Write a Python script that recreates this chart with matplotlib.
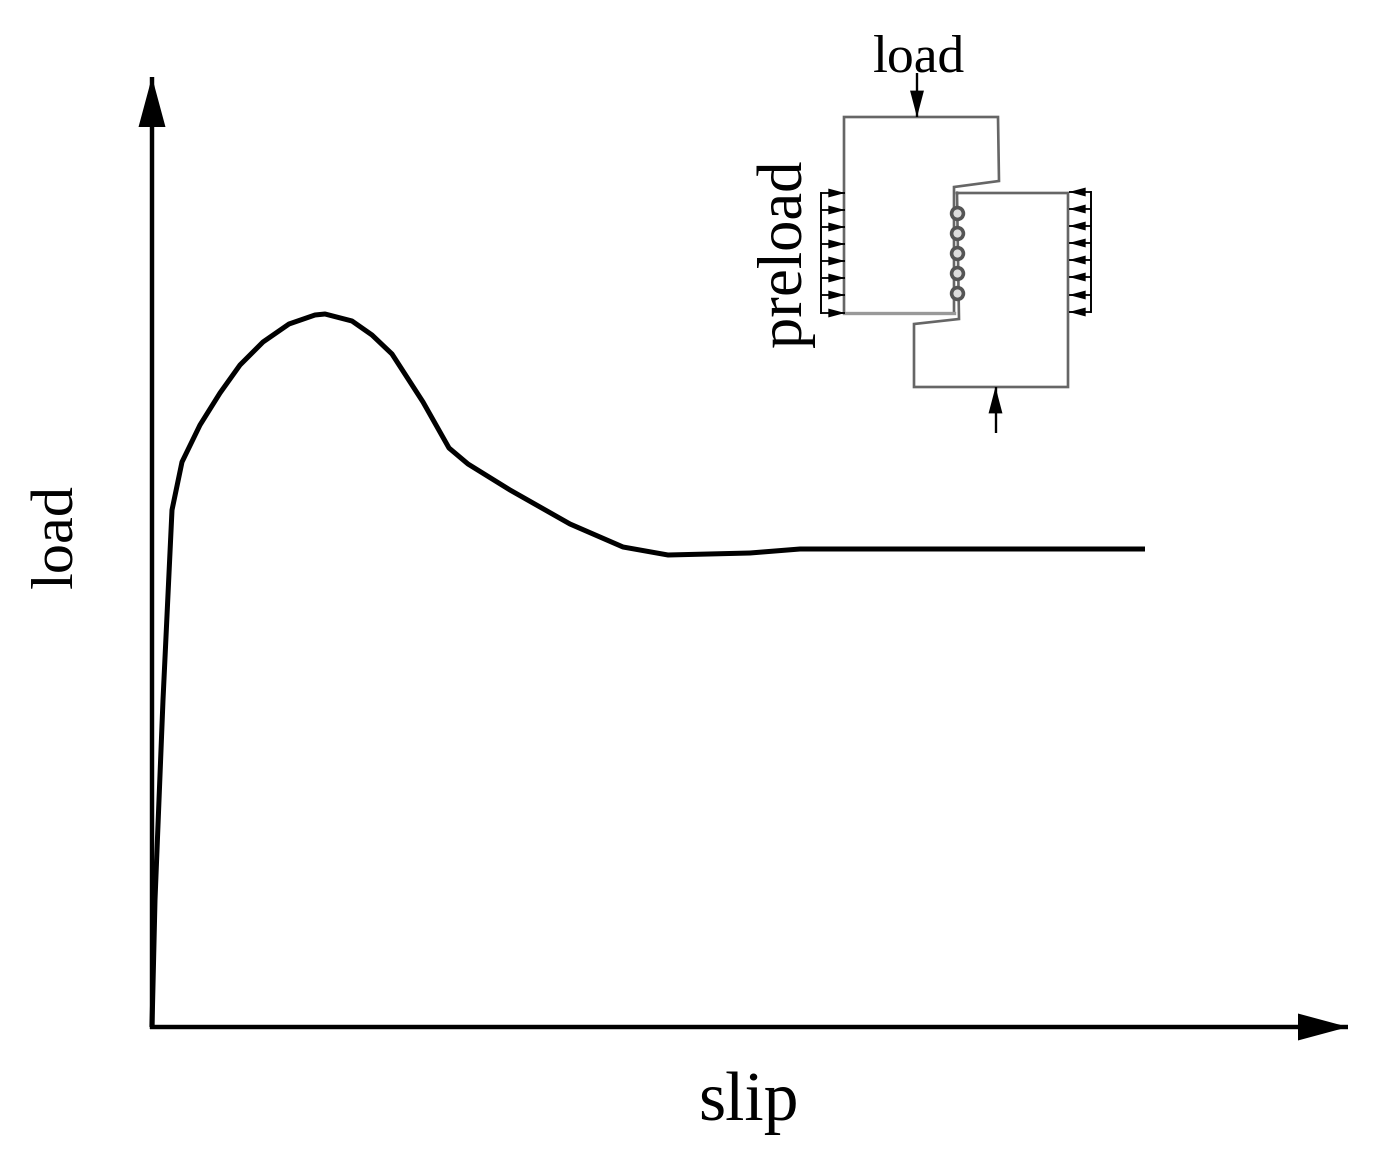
import matplotlib
matplotlib.use('Agg')
import matplotlib.pyplot as plt

W, H = 1381, 1157

plt.rcParams['font.family'] = ['Liberation Serif', 'DejaVu Serif']

# curve (slip, load), same units as the pixels of the main axes
slip = [0, 3, 11, 20, 30, 48, 68, 88, 111, 137, 163, 173, 200, 220, 240, 271, 297,
        316, 358, 418, 471, 516, 598, 648, 993]
load = [0, 127, 327, 517, 565, 602, 634, 662, 685, 703, 712, 713, 706, 692, 673,
        625, 579, 563, 537, 503, 480, 472, 474, 478, 478]

# specimen sketch, inset coordinates
upper_x = [844, 844, 998, 999, 954, 954]
upper_y = [312, 117, 117, 181, 187, 312]
upper_bottom_x = [844, 954]
upper_bottom_y = [313, 313]
lower_x = [957, 1068, 1068, 914, 914, 959, 957]
lower_y = [193, 193, 387, 387, 324, 319, 193]
bolt_y = [213, 233, 253, 273, 293]
bolt_x = [957, 957, 957, 957, 957]
preload_left_y = [193, 210, 227, 244, 261, 278, 295, 313]
preload_right_y = [192, 209, 226, 243, 260, 277, 295, 312]


def add_axes_px(fig, left, top, right, bottom):
    return fig.add_axes([left / W, 1 - bottom / H, (right - left) / W, (bottom - top) / H])


def arrow(ax, start, end, lw, length, half_width):
    # shaft and head apart, a head without edge keeps its tip exactly on end
    ax.plot([start[0], end[0]], [start[1], end[1]], color='black', lw=lw,
            solid_capstyle='butt', clip_on=False)
    ax.annotate('', xy=end, xytext=start, annotation_clip=False,
                arrowprops=dict(arrowstyle=f'-|>,head_length={length},head_width={half_width}',
                                mutation_scale=1, lw=0, color='black', shrinkA=0, shrinkB=0))


fig = plt.figure(figsize=(W / 100, H / 100), dpi=100, facecolor='white')

# main chart
ax = add_axes_px(fig, 152, 77, 1348, 1027)
ax.set_xlim(0, 1196)
ax.set_ylim(0, 950)
ax.axis('off')
ax.plot(slip, load, color='black', lw=3.6, solid_joinstyle='round', solid_capstyle='butt',
        clip_on=False)
arrow(ax, (0, -2), (0, 950), 3.2, 36, 9.7)
arrow(ax, (-2, 0), (1196, 0), 3.2, 36, 9.7)

fig.text(748 / W, 1 - 1120 / H, 'slip', fontsize=50, ha='center', va='baseline')
fig.text(85 / W, 1 - 536.5 / H, 'load', fontsize=43.5, rotation=90, ha='right', va='center')

# inset sketch, y runs downward like the picture
inset = add_axes_px(fig, 760, 20, 1110, 450)
inset.set_xlim(760, 1110)
inset.set_ylim(450, 20)
inset.axis('off')
inset.plot(upper_x, upper_y, color='#666666', lw=1.9, solid_joinstyle='miter')
inset.plot(upper_bottom_x, upper_bottom_y, color='#999999', lw=2.4)
inset.plot(lower_x, lower_y, color='#666666', lw=1.9, solid_joinstyle='miter')
inset.plot(bolt_x, bolt_y, ls='none', marker='o', ms=8.5, mfc='#dddddd', mec='#555555', mew=2.6)

inset.plot([821, 821], [preload_left_y[0], preload_left_y[-1]], color='black', lw=1.4)
for y in preload_left_y:
    arrow(inset, (821, y), (845, y), 1.3, 12, 3.2)
inset.plot([1091, 1091], [preload_right_y[0], preload_right_y[-1]], color='black', lw=1.4)
for y in preload_right_y:
    arrow(inset, (1091, y), (1069, y), 1.3, 12, 3.2)

arrow(inset, (917, 73), (917, 117), 1.7, 19, 5)
arrow(inset, (995.5, 433), (995.5, 387), 1.7, 19, 5)

inset.text(919, 71, 'load', fontsize=38.5, ha='center', va='baseline')
inset.text(815, 253.5, 'preload', fontsize=45, rotation=90, ha='right', va='center')

fig.savefig('out.png', dpi=100, facecolor='white')
plt.close(fig)
